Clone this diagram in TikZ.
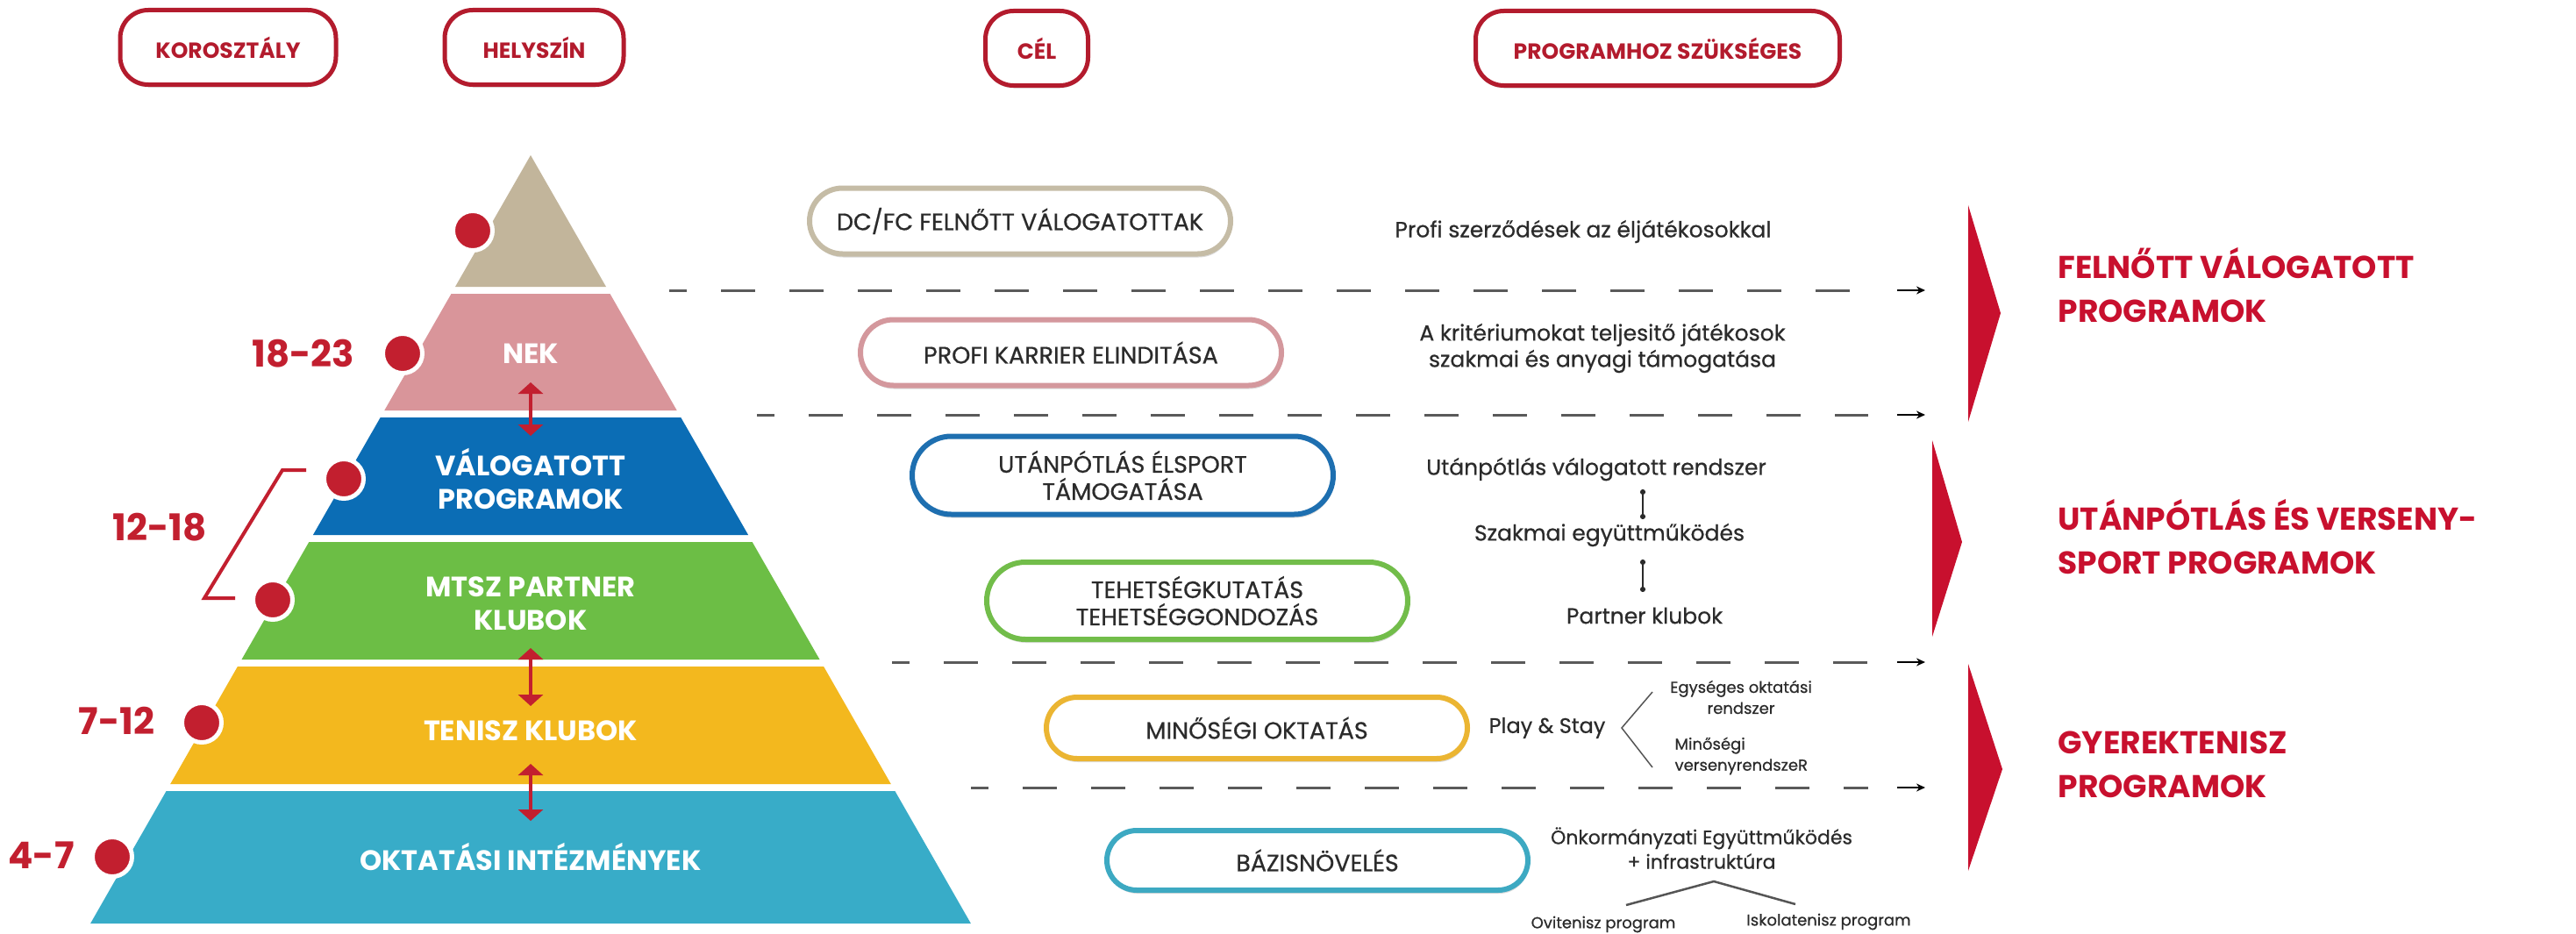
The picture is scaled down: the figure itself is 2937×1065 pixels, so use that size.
\documentclass[tikz,border=0pt]{standalone}
\usepackage{fontspec}
\setmainfont{Poppins}
\newfontfamily\medf{Poppins}[FakeBold=0.6]
\usetikzlibrary{arrows.meta,shapes.misc,shadows}
\definecolor{hdred}{HTML}{B31B2D}
\definecolor{ttlred}{HTML}{C8102E}
\definecolor{agered}{HTML}{C21F2F}
\definecolor{ctan}{HTML}{C2B59B}
\definecolor{cpink}{HTML}{D9959A}
\definecolor{cblue}{HTML}{0B6DB5}
\definecolor{cgreen}{HTML}{6CBE45}
\definecolor{cyell}{HTML}{F3B81E}
\definecolor{ccyan}{HTML}{38ACC8}
\definecolor{otan}{HTML}{C5BCA6}
\definecolor{opink}{HTML}{D4989D}
\definecolor{oblue}{HTML}{1E6FB0}
\definecolor{ogreen}{HTML}{72BD4A}
\definecolor{oyell}{HTML}{EBB532}
\definecolor{ocyan}{HTML}{3DA9C2}
\definecolor{txt}{HTML}{2B2B2B}
\definecolor{dgray}{HTML}{5A5A5A}
\begin{document}
\begin{tikzpicture}[x=1pt,y=-1pt,
  hdr/.style={draw=hdred, line width=5pt, fill=white, rounded corners=32pt,
    minimum height=85pt, inner sep=0pt, text=hdred,
    font=\fontsize{25}{28}\selectfont\bfseries,
    drop shadow={shadow xshift=0pt, shadow yshift=-3pt, fill=black!35, opacity=.4}},
  goal/.style={rounded rectangle, draw=#1, line width=6pt, fill=white,
    minimum width=480pt, inner sep=0pt, align=center, text=txt,
    font=\fontsize{27}{31}\selectfont\medf,
    drop shadow={shadow xshift=1pt, shadow yshift=-4pt, fill=black!40, opacity=.35}},
  band/.style={text=white, align=center, font=\fontsize{32}{38}\selectfont\bfseries},
  age/.style={text=agered, font=\fontsize{42}{46}\selectfont\bfseries},
  dot/.style={circle, fill=agered, draw=white, line width=5pt, minimum size=45pt, inner sep=0pt},
  biarrow/.style={draw=agered, line width=4pt,
    {Triangle[width=28pt,length=13pt]}-{Triangle[width=28pt,length=13pt]}},
  dline/.style={draw=dgray, line width=3pt, dash pattern=on 39pt off 39pt, dash phase=19pt},
  tipar/.style={draw=black, line width=2pt, -{Stealth[length=10pt,width=9pt]}},
  expl/.style={text=txt, align=center, font=\fontsize{25}{30}\selectfont\medf},
  small/.style={text=txt, align=center, font=\fontsize{18}{24}\selectfont\medf},
  dotline/.style={draw=txt, line width=2pt, {Circle[length=6pt]}-{Circle[length=6pt]}},
  thinline/.style={draw=txt!80, line width=2pt},
  ttl/.style={text=ttlred, anchor=west, align=left, font=\fontsize{36}{50}\selectfont\bfseries},
  chev/.style={fill=ttlred}
]
\useasboundingbox (0,0) rectangle (2937,1065);
\fill[white] (0,0) rectangle (2937,1065);

% header boxes
\node[hdr, minimum width=246pt] (h1) at (260,54) {KOROSZTÁLY};
\node[hdr, minimum width=204pt] (h2) at (609,54) {HELYSZÍN};
\node[hdr, minimum width=117pt] (h3) at (1182,55) {CÉL};
\node[hdr, minimum width=415pt] (h4) at (1890,55) {PROGRAMHOZ SZÜKSÉGES};

% pyramid bands
\fill[ctan]  (605,177) -- (691,327) -- (519,327) -- cycle;
\fill[cpink] (514.5,335) -- (695.5,335) -- (771.7,468) -- (438.3,468) -- cycle;
\fill[cblue] (433.7,476) -- (776.3,476) -- (853.1,610) -- (356.9,610) -- cycle;
\fill[cgreen] (352.3,618) -- (857.7,618) -- (934.5,752) -- (275.5,752) -- cycle;
\fill[cyell] (270.9,760) -- (939.1,760) -- (1015.8,894) -- (194.2,894) -- cycle;
\fill[ccyan] (189.6,902) -- (1020.4,902) -- (1106.9,1053) -- (103.1,1053) -- cycle;

% band labels
\node[band] (b2) at (605,403) {NEK};
\node[band] (b3) at (605,546) {VÁLOGATOTT\\PROGRAMOK};
\node[band] (b4) at (605,688) {MTSZ PARTNER\\KLUBOK};
\node[band] (b5) at (605,833) {TENISZ KLUBOK};
\node[band] (b6) at (605,977) {OKTATÁSI INTÉZMÉNYEK};

% red double arrows
\coordinate (r1a) at (605,436); \coordinate (r1b) at (605,497);
\coordinate (r2a) at (605,739); \coordinate (r2b) at (605,805);
\coordinate (r3a) at (605,871); \coordinate (r3b) at (605,936);
\draw[biarrow] (r1a) -- (r1b);
\draw[biarrow] (r2a) -- (r2b);
\draw[biarrow] (r3a) -- (r3b);

% dots
\node[dot] (d1) at (539,263) {};
\node[dot] (d2) at (459,403) {};
\node[dot] (d3) at (392,546) {};
\node[dot] (d4) at (311,684) {};
\node[dot] (d5) at (230,824) {};
\node[dot] (d6) at (128,977) {};

% ages
\node[age] (a1) at (346,403) {18-23};
\node[age] (a2) at (182,601) {12-18};
\node[age] (a3) at (133,822) {7-12};
\node[age] (a4) at (47,975) {4-7};
\coordinate (k1) at (349,536); \coordinate (k2) at (322,536);
\coordinate (k3) at (233,682); \coordinate (k4) at (268,682);
\draw[agered, line width=4pt] (k1) -- (k2) -- (k3) -- (k4);

% goal ovals
\node[goal=otan, minimum height=75pt] (g1) at (1163,252) {DC/FC FELNŐTT VÁLOGATOTTAK};
\node[goal=opink, minimum height=75pt] (g2) at (1221,402) {PROFI KARRIER ELINDITÁSA};
\node[goal=oblue, minimum height=89pt] (g3) at (1280,542) {UTÁNPÓTLÁS ÉLSPORT\\TÁMOGATÁSA};
\node[goal=ogreen, minimum height=88pt] (g4) at (1365,685) {TEHETSÉGKUTATÁS\\TEHETSÉGGONDOZÁS};
\node[goal=oyell, minimum height=70pt] (g5) at (1433,830) {MINŐSÉGI OKTATÁS};
\node[goal=ocyan, minimum height=68pt] (g6) at (1502,981) {BÁZISNÖVELÉS};

% dashed separators
\foreach \n/\xs/\yy in {1/763/331, 2/863/473, 3/1017/755, 4/1107/898}{
  \coordinate (l\n s) at (\xs,\yy);
  \coordinate (l\n e) at (2130,\yy);
  \coordinate (l\n a) at (2163,\yy);
  \coordinate (l\n t) at (2195,\yy);
  \draw[dline] (l\n s) -- (l\n e);
  \draw[tipar] (l\n a) -- (l\n t);
}

% explanations
\node[expl] (p1) at (1805,264) {Profi szerződések az éljátékosokkal};
\node[expl] (p2) at (1827,397) {A kritériumokat teljesitő játékosok\\szakmai és anyagi támogatása};
\node[expl] (p3) at (1820,535) {Utánpótlás válogatott rendszer};
\node[expl] (p4) at (1835,610) {Szakmai együttműködés};
\node[expl] (p5) at (1875,702) {Partner klubok};
\coordinate (c1a) at (1873,558); \coordinate (c1b) at (1873,592);
\coordinate (c2a) at (1873,638); \coordinate (c2b) at (1873,675);
\draw[dotline] (c1a) -- (c1b);
\draw[dotline] (c2a) -- (c2b);

\node[expl, font=\fontsize{24}{30}\selectfont\medf] (ps) at (1764,830) {Play \& Stay};
\coordinate (v0) at (1849,830); \coordinate (v1) at (1884,789); \coordinate (v2) at (1884,875);
\draw[thinline, line width=1.5pt] (v1) -- (v0) -- (v2);
\node[small] (e1) at (1985,795) {Egységes oktatási\\rendszer};
\node[small, align=left, anchor=west] (e2) at (1906,862) {Minőségi\\versenyrendszeR};

\node[expl, font=\fontsize{22}{28}\selectfont\medf] (o1) at (1940,967) {Önkormányzati Együttműködés\\+ infrastruktúra};
\coordinate (w1) at (1854,1032); \coordinate (w0) at (1954,1005); \coordinate (w2) at (2047,1031);
\draw[thinline, line width=2.5pt] (w1) -- (w0) -- (w2);
\node[small] (o2) at (1828,1054) {Ovitenisz program};
\node[small] (o3) at (2085,1051) {Iskolatenisz program};

% chevrons
\fill[chev] (2244,234) -- (2281,357) -- (2244,481) -- cycle;
\fill[chev] (2203,502) -- (2237,618) -- (2203,726) -- cycle;
\fill[chev] (2244,757) -- (2283,877) -- (2244,993) -- cycle;

% titles
\node[ttl] (t1) at (2343,325) {FELNŐTT VÁLOGATOTT\\PROGRAMOK};
\node[ttl] (t2) at (2343,612) {UTÁNPÓTLÁS ÉS VERSENY-\\SPORT PROGRAMOK};
\node[ttl] (t3) at (2343,872) {GYEREKTENISZ\\PROGRAMOK};
\end{tikzpicture}
\end{document}
